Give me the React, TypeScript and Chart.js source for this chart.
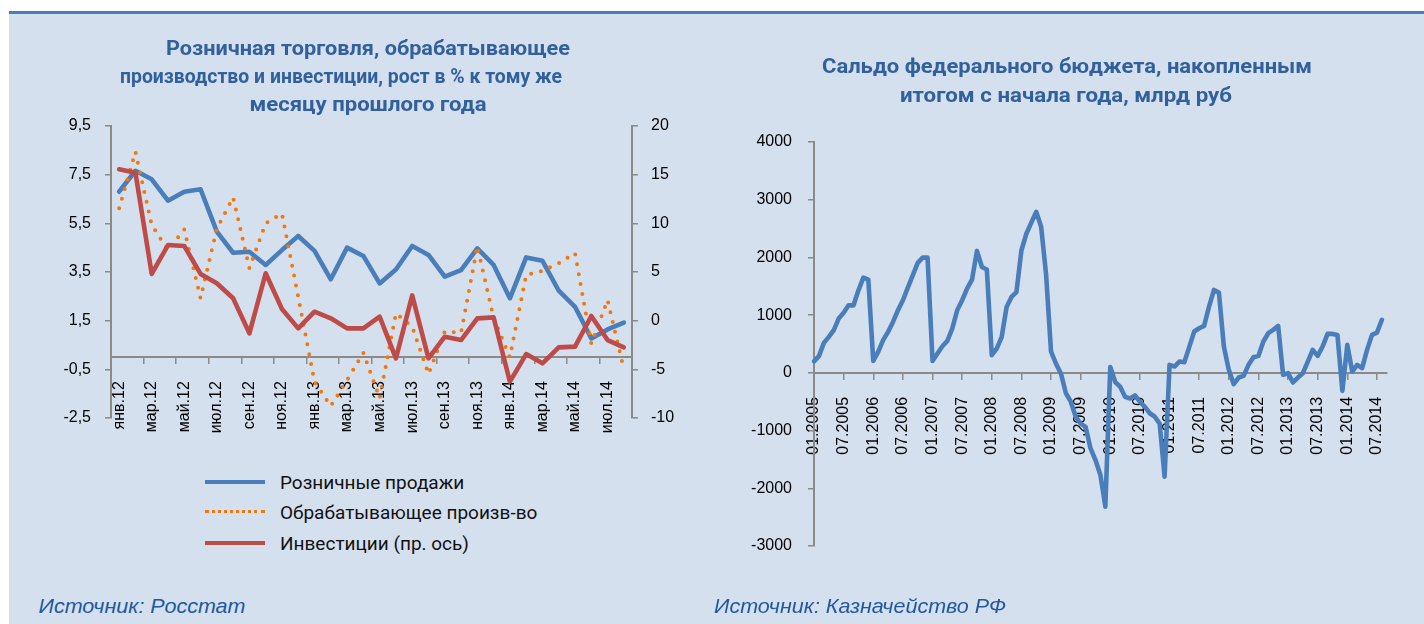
import React, { useEffect, useRef } from 'react';
import { Chart, registerables } from 'chart.js';

Chart.register(...registerables);

// ---------- Left chart data ----------
const leftCategories = [
  'янв.12', 'фев.12', 'мар.12', 'апр.12', 'май.12', 'июн.12', 'июл.12', 'авг.12', 'сен.12', 'окт.12', 'ноя.12', 'дек.12',
  'янв.13', 'фев.13', 'мар.13', 'апр.13', 'май.13', 'июн.13', 'июл.13', 'авг.13', 'сен.13', 'окт.13', 'ноя.13', 'дек.13',
  'янв.14', 'фев.14', 'мар.14', 'апр.14', 'май.14', 'июн.14', 'июл.14', 'авг.14',
];
const retailSales = [6.8, 7.66, 7.31, 6.43, 6.8, 6.9, 5.16, 4.29, 4.33, 3.79, 4.4, 4.98, 4.37, 3.2, 4.5, 4.16, 3.03, 3.6, 4.57, 4.2, 3.31, 3.58, 4.47, 3.79, 2.42, 4.1, 3.96, 2.73, 2.07, 0.77, 1.14, 1.42];
const manufacturing = [6.12, 8.44, 5.43, 4.4, 5.25, 2.42, 5.27, 6.57, 3.66, 5.5, 5.9, 2.48, -1.01, -2.01, -0.94, 0.18, -1.69, 1.8, 1.25, -0.69, 1.05, 1.0, 4.55, 1.61, 0.0, 3.38, 3.55, 3.86, 4.27, 0.55, 2.35, -0.49];
const investment = [15.55, 15.2, 4.8, 7.77, 7.67, 4.8, 3.84, 2.3, -1.3, 4.87, 1.2, -0.79, 0.92, 0.24, -0.79, -0.79, 0.41, -3.87, 2.6, -3.87, -1.65, -1.99, 0.24, 0.34, -6.27, -3.43, -4.38, -2.74, -2.67, 0.48, -1.99, -2.74];
const leftTitle = ['Розничная торговля, обрабатывающее', 'производство и инвестиции, рост в % к тому же', 'месяцу прошлого года'];
const leftSeriesNames = ['Розничные продажи', 'Обрабатывающее произв-во', 'Инвестиции (пр. ось)'];

// ---------- Right chart data ----------
const budgetYears = [2005, 2006, 2007, 2008, 2009, 2010, 2011, 2012, 2013, 2014];
const monthCodes = ['01', '02', '03', '04', '05', '06', '07', '08', '09', '10', '11', '12'];
const budget2005 = [200, 290, 520, 623, 740, 940, 1040, 1170, 1170, 1430, 1650, 1616];
const budget2006 = [208, 364, 566, 710, 883, 1085, 1258, 1478, 1690, 1905, 1997, 1997];
const budget2007 = [208, 335, 462, 554, 768, 1085, 1258, 1460, 1616, 2113, 1835, 1790];
const budget2008 = [306, 420, 620, 1140, 1316, 1400, 2120, 2410, 2600, 2790, 2530, 1705];
const budget2009 = [370, 160, -10, -350, -500, -760, -880, -935, -1310, -1510, -1770, -2320];
const budget2010 = [100, -160, -240, -415, -445, -390, -500, -590, -700, -760, -880, -1800];
const budget2011 = [139, 110, 196, 185, 450, 716, 773, 814, 1149, 1437, 1391, 456];
const budget2012 = [52, -196, -81, -52, 139, 271, 294, 543, 687, 745, 814, -35];
const budget2013 = [-6, -167, -81, -6, 196, 398, 294, 456, 675, 675, 658, -312];
const budget2014 = [485, 23, 139, 81, 398, 658, 698, 918];
const budgetValues = [...budget2005, ...budget2006, ...budget2007, ...budget2008, ...budget2009, ...budget2010, ...budget2011, ...budget2012, ...budget2013, ...budget2014];
// date axis runs one month past the last observation
const budgetLabels = budgetYears.flatMap((y) => monthCodes.map((m) => `${m}.${y}`)).slice(0, budgetValues.length + 1);
const rightTitle = ['Сальдо федерального бюджета, накопленным', 'итогом с начала года, млрд руб'];
const leftSource = 'Источник: Росстат';
const rightSource = 'Источник: Казначейство РФ';

// ---------- styles ----------
const BLUE = '#4A7EBB';
const ORANGE = '#F0780F';
const RED = '#BE4B48';
const GRAY = '#8A8A8A';
const PANEL = '#D5E0EF';
const TITLE_COLOR = '#31609C';
const SOURCE_COLOR = '#2158A0';
const TICK_FONT = { family: "'Liberation Sans', Arial, sans-serif", size: 16 };
const TITLE_FONT = "700 21px Roboto, 'Noto Sans', sans-serif";
const SOURCE_FONT = "italic 400 21px 'Liberation Sans', Arial, sans-serif";
const TRANSPARENT = 'rgba(0,0,0,0)';

let measureCtx: CanvasRenderingContext2D | null = null;
function fitScale(text: string, font: string, target: number): number {
  if (!measureCtx) measureCtx = document.createElement('canvas').getContext('2d');
  if (!measureCtx) return 1;
  measureCtx.font = font;
  const w = measureCtx.measureText(text).width;
  return w > 0 ? target / w : 1;
}

function LeftChart() {
  const ref = useRef<HTMLCanvasElement>(null);
  useEffect(() => {
    const chart = new Chart(ref.current as HTMLCanvasElement, {
      type: 'line',
      data: {
        labels: leftCategories,
        datasets: [
          { label: leftSeriesNames[0], data: retailSales, borderColor: BLUE, backgroundColor: BLUE, borderWidth: 4.6, pointRadius: 0, yAxisID: 'y', order: 2, borderJoinStyle: 'round', borderCapStyle: 'round' },
          { label: leftSeriesNames[1], data: manufacturing, borderColor: ORANGE, backgroundColor: ORANGE, borderWidth: 4, borderDash: [0, 10], borderCapStyle: 'round', borderJoinStyle: 'round', pointRadius: 0, yAxisID: 'y', order: 1 },
          { label: leftSeriesNames[2], data: investment, borderColor: RED, backgroundColor: RED, borderWidth: 4.6, pointRadius: 0, yAxisID: 'y1', order: 0, borderJoinStyle: 'round', borderCapStyle: 'round' },
        ],
      },
      options: {
        responsive: false,
        animation: false,
        layout: { padding: { left: 51, right: 8, top: 126, bottom: 52 } },
        plugins: { legend: { display: false }, tooltip: { enabled: false }, title: { display: false } },
        scales: {
          x: {
            type: 'category',
            position: { y: 0 } as any,
            offset: true,
            grid: {
              offset: true,
              drawOnChartArea: false,
              drawTicks: true,
              tickLength: 6,
              lineWidth: 1.5,
              color: (ctx: any) => (ctx.index % 2 === 0 ? GRAY : TRANSPARENT),
            },
            border: { display: true, color: GRAY, width: 2 },
            ticks: {
              autoSkip: false,
              minRotation: 90,
              maxRotation: 90,
              padding: 18,
              color: '#000',
              font: TICK_FONT,
              callback: (_v: any, i: number) => (i % 2 === 0 ? leftCategories[i] : ''),
            },
          },
          y: {
            position: 'left',
            min: -2.5,
            max: 9.5,
            grid: { drawOnChartArea: false, drawTicks: true, tickLength: 6, lineWidth: 1.5, color: GRAY },
            border: { display: true, color: GRAY, width: 2 },
            ticks: { stepSize: 2, padding: 14, color: '#000', font: TICK_FONT, callback: (v: any) => Number(v).toFixed(1).replace('.', ',') },
            afterFit: (s: any) => { s.width = 60; },
          },
          y1: {
            position: 'right',
            min: -10,
            max: 20,
            grid: { drawOnChartArea: false, drawTicks: true, tickLength: 6, lineWidth: 1.5, color: GRAY },
            border: { display: true, color: GRAY, width: 2 },
            ticks: { stepSize: 5, padding: 13, color: '#000', font: TICK_FONT, callback: (v: any) => String(Math.round(Number(v))) },
            afterFit: (s: any) => { s.width = 60; },
          },
        },
      },
    } as any);
    return () => chart.destroy();
  }, []);
  return <canvas ref={ref} width={700} height={470} style={{ position: 'absolute', left: 0, top: 0, width: 700, height: 470 }} />;
}

function RightChart() {
  const ref = useRef<HTMLCanvasElement>(null);
  useEffect(() => {
    const chart = new Chart(ref.current as HTMLCanvasElement, {
      type: 'line',
      data: {
        labels: budgetLabels,
        datasets: [
          { label: 'Сальдо', data: budgetValues, borderColor: BLUE, backgroundColor: BLUE, borderWidth: 4.6, pointRadius: 0, borderJoinStyle: 'round', borderCapStyle: 'round' },
        ],
      },
      options: {
        responsive: false,
        animation: false,
        layout: { padding: { left: 44, right: 32, top: 142, bottom: 54 } },
        plugins: { legend: { display: false }, tooltip: { enabled: false }, title: { display: false } },
        scales: {
          x: {
            type: 'category',
            position: { y: 0 } as any,
            offset: false,
            grid: {
              offset: false,
              drawOnChartArea: false,
              drawTicks: true,
              tickLength: 6,
              lineWidth: 1.5,
              color: (ctx: any) => (ctx.index % 6 === 0 ? GRAY : TRANSPARENT),
            },
            border: { display: true, color: GRAY, width: 2 },
            ticks: {
              autoSkip: false,
              minRotation: 90,
              maxRotation: 90,
              padding: 18,
              color: '#000',
              font: TICK_FONT,
              callback: (_v: any, i: number) => (i % 6 === 0 ? budgetLabels[i] : ''),
            },
          },
          y: {
            position: 'left',
            min: -3000,
            max: 4000,
            grid: { drawOnChartArea: false, drawTicks: true, tickLength: 6, lineWidth: 1.5, color: GRAY },
            border: { display: true, color: GRAY, width: 2 },
            ticks: { stepSize: 1000, padding: 16, color: '#000', font: TICK_FONT, callback: (v: any) => String(Math.round(Number(v))) },
            afterFit: (s: any) => { s.width = 70; },
          },
        },
      },
    } as any);
    return () => chart.destroy();
  }, []);
  return <canvas ref={ref} width={724} height={600} style={{ position: 'absolute', left: 700, top: 0, width: 724, height: 600 }} />;
}

type TitleLine = { text: string; cx: number; cy: number; width: number };

function FittedText({ line, font, color }: { line: TitleLine; font: string; color: string }) {
  const s = fitScale(line.text, font, line.width);
  return (
    <div
      style={{
        position: 'absolute',
        left: line.cx,
        top: line.cy,
        transform: `translate(-50%, -50%) scaleX(${s})`,
        whiteSpace: 'nowrap',
        font,
        color,
        lineHeight: '1',
      }}
    >
      {line.text}
    </div>
  );
}

function LegendRow({ y, kind, color, text }: { y: number; kind: 'solid' | 'dotted'; color: string; text: string }) {
  return (
    <>
      <div
        style={{
          position: 'absolute',
          left: 205,
          top: y - 2,
          width: 60,
          height: 0,
          borderTop: kind === 'solid' ? `4px solid ${color}` : `3px dotted ${color}`,
        }}
      />
      <div
        style={{
          position: 'absolute',
          left: 280,
          top: y,
          transform: 'translateY(-50%)',
          whiteSpace: 'nowrap',
          font: "400 19px Roboto, 'Noto Sans', sans-serif",
          color: '#111',
          lineHeight: '1',
        }}
      >
        {text}
      </div>
    </>
  );
}

const leftTitleLines: TitleLine[] = [
  { text: leftTitle[0], cx: 368, cy: 48, width: 404 },
  { text: leftTitle[1], cx: 341, cy: 76, width: 442 },
  { text: leftTitle[2], cx: 368, cy: 104, width: 237 },
];
const rightTitleLines: TitleLine[] = [
  { text: rightTitle[0], cx: 1067, cy: 66, width: 490 },
  { text: rightTitle[1], cx: 1066, cy: 95, width: 332 },
];
const sourceLines: TitleLine[] = [
  { text: leftSource, cx: 38 + 207 / 2, cy: 605, width: 207 },
  { text: rightSource, cx: 714 + 292 / 2, cy: 605, width: 292 },
];

export default function App() {
  return (
    <div style={{ position: 'absolute', left: 0, top: 0, width: 1424, height: 624, overflow: 'hidden', background: '#fff' }}>
      <div style={{ position: 'absolute', left: 9, top: 11, width: 1415, height: 613, background: PANEL, borderTop: `3px solid ${BLUE}`, boxSizing: 'border-box' }} />
      <LeftChart />
      <RightChart />
      {leftTitleLines.map((l, i) => <FittedText key={'lt' + i} line={l} font={TITLE_FONT} color={TITLE_COLOR} />)}
      {rightTitleLines.map((l, i) => <FittedText key={'rt' + i} line={l} font={TITLE_FONT} color={TITLE_COLOR} />)}
      <LegendRow y={482} kind="solid" color={BLUE} text={leftSeriesNames[0]} />
      <LegendRow y={512} kind="dotted" color={ORANGE} text={leftSeriesNames[1]} />
      <LegendRow y={543} kind="solid" color={RED} text={leftSeriesNames[2]} />
      {sourceLines.map((l, i) => <FittedText key={'s' + i} line={l} font={SOURCE_FONT} color={SOURCE_COLOR} />)}
    </div>
  );
}
